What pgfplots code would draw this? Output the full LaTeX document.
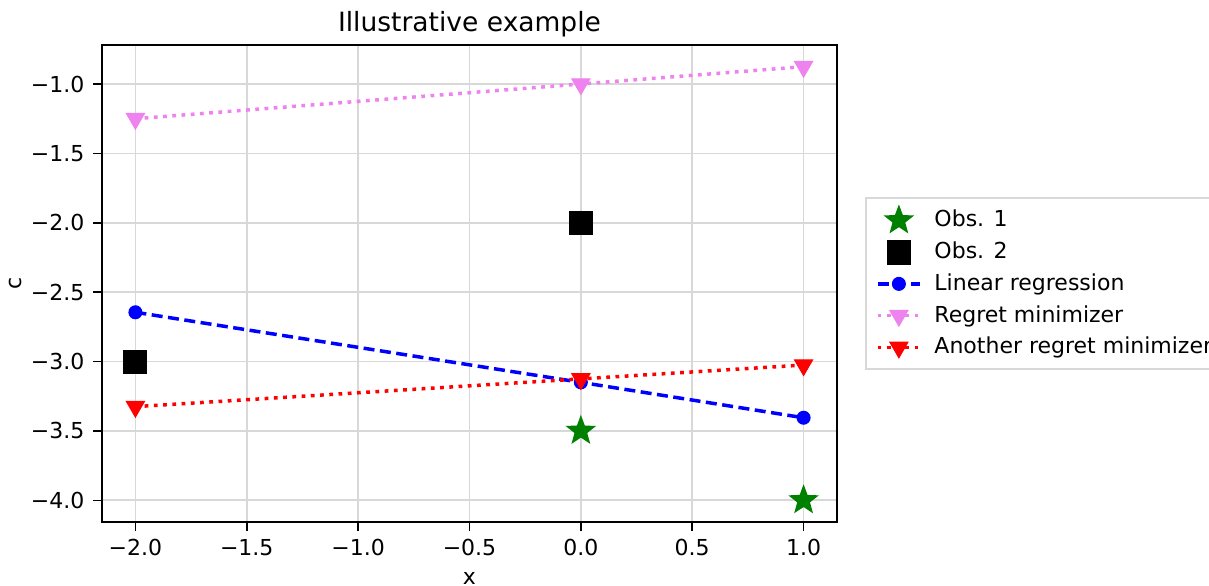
\documentclass[border=0pt]{standalone}
\usepackage{pgfplots}
\pgfplotsset{compat=1.18}
\usepackage{fontspec}
\setmainfont{DejaVu Sans}
\definecolor{mgreen}{HTML}{008000}
\definecolor{mviolet}{HTML}{EE82EE}
\definecolor{mgrid}{HTML}{D8D8D8}
% filled five-pointed star
\pgfdeclareplotmark{fstar}{%
  \pgfpathmoveto{\pgfqpointpolar{90}{\pgfplotmarksize}}%
  \foreach \k in {1,...,9}{%
    \pgfmathsetmacro\ang{90+36*\k}%
    \ifodd\k
      \pgfpathlineto{\pgfpointpolar{\ang}{0.42\pgfplotmarksize}}%
    \else
      \pgfpathlineto{\pgfpointpolar{\ang}{\pgfplotmarksize}}%
    \fi
  }%
  \pgfpathclose
  \pgfusepathqfill
}
\begin{document}
\begin{tikzpicture}
\begin{axis}[
  at={(0,0)}, anchor=south west,
  width=294pt, height=190.8pt, scale only axis,
  xmin=-2.15, xmax=1.15, ymin=-4.15625, ymax=-0.71875,
  xtick={-2,-1.5,-1,-0.5,0,0.5,1},
  xticklabels={−2.0,−1.5,−1.0,−0.5,0.0,0.5,1.0},
  ytick={-4,-3.5,-3,-2.5,-2,-1.5,-1},
  yticklabels={−4.0,−3.5,−3.0,−2.5,−2.0,−1.5,−1.0},
  xtick pos=lower, ytick pos=left,
  tick align=outside, major tick length=3.5pt,
  tick style={black, line width=0.6pt},
  axis line style={line width=0.6pt},
  grid=major, grid style={mgrid, line width=0.7pt},
  tick label style={font=\fontsize{8.8}{10.5}\selectfont},
  xlabel={x}, ylabel={c},
  label style={font=\fontsize{8.8}{10.5}\selectfont},
  xlabel style={yshift=0.5pt},
  ylabel style={yshift=-3pt},
  title={Illustrative example},
  title style={font=\fontsize{10.6}{12.5}\selectfont, yshift=-6.5pt},
  legend style={at={(1.038,0.5)}, anchor=west, draw=mgrid, line width=0.7pt,
    font=\fontsize{8.8}{10.5}\selectfont, row sep=0.5pt, inner xsep=4pt, inner ysep=2.5pt,
    /tikz/every odd column/.append style={column sep=3pt}},
  legend cell align=left,
]
\addplot[only marks, mark=fstar, mgreen, mark size=6.4pt]
  coordinates {(0,-3.5) (1,-4.0)};
\addlegendentry{Obs. 1}
\addplot[only marks, mark=square*, black, mark size=4.6pt]
  coordinates {(0,-2.0) (-2,-3.0)};
\addlegendentry{Obs. 2}
\addplot[blue, dash pattern=on 4.4pt off 2.2pt, line width=1.4pt, mark=*, mark size=2.6pt, mark options={solid, line width=0.4pt}]
  coordinates {(-2,-2.645) (0,-3.15) (1,-3.405)};
\addlegendentry{Linear regression}
\addplot[mviolet, dash pattern=on 1.5pt off 2.2pt, line width=1.4pt, mark=triangle*, mark size=4.2pt, mark options={solid, rotate=180, fill=mviolet, line width=0.4pt}]
  coordinates {(-2,-1.25) (0,-1.0) (1,-0.875)};
\addlegendentry{Regret minimizer}
\addplot[red, dash pattern=on 1.5pt off 2.2pt, line width=1.4pt, mark=triangle*, mark size=4.2pt, mark options={solid, rotate=180, fill=red, line width=0.4pt}]
  coordinates {(-2,-3.325) (0,-3.125) (1,-3.025)};
\addlegendentry{Another regret minimizer}
\end{axis}
\pgfresetboundingbox
\useasboundingbox (-40.8pt,-25.6pt) rectangle (442.8pt,208.8pt);
\end{tikzpicture}
\end{document}
